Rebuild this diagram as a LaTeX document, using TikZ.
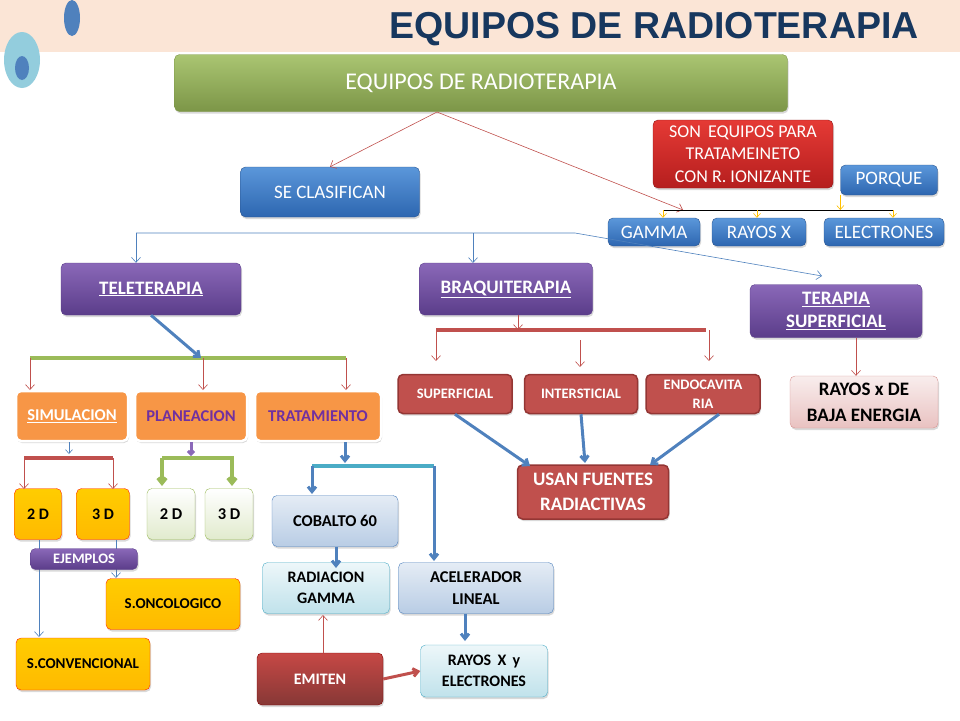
\documentclass[tikz,border=0pt]{standalone}
\usepackage{fontspec}
\setmainfont{Carlito}
\newfontfamily\titlefont{Liberation Sans}
\usetikzlibrary{arrows.meta,shadows}

\definecolor{olivegreen}{HTML}{9BBB59}
\definecolor{steelblue}{HTML}{4F81BD}
\definecolor{boxbluetop}{HTML}{5B97DA}
\definecolor{boxbluebot}{HTML}{2D66B0}
\definecolor{darksteel}{HTML}{2B5590}
\definecolor{brick}{HTML}{C0504D}
\definecolor{darkbrick}{HTML}{943634}
\definecolor{lavender}{HTML}{8A68B8}
\definecolor{darklav}{HTML}{5B3D8A}
\definecolor{tangerine}{HTML}{F79646}
\definecolor{amber}{HTML}{FFC000}
\definecolor{teal}{HTML}{4BACC6}
\definecolor{navytitle}{HTML}{17375E}
\definecolor{peach}{HTML}{FBE5D6}
\definecolor{violettext}{HTML}{7030A0}
\definecolor{signalred}{HTML}{E53A35}
\definecolor{deepred}{HTML}{B51E1E}

\newcommand{\fs}[1]{\fontsize{#1}{#1}\selectfont}

\begin{document}
\begin{tikzpicture}[x=1pt,y=-1pt,
    dim/.style 2 args={minimum width=#1pt,minimum height=#2pt},
    box/.style={rounded corners=5pt,align=center,inner sep=1pt,
        drop shadow={opacity=0.3,shadow xshift=1pt,shadow yshift=-2pt}},
    greenroot/.style={box,draw=olivegreen!80!black,top color=olivegreen!85!white,bottom color=olivegreen!80!black,text=white,font=\fs{24}},
    bluebox/.style={box,draw=darksteel,top color=boxbluetop,bottom color=boxbluebot,text=white,font=\fs{19}},
    redbox/.style={box,draw=deepred!80!black,top color=signalred,bottom color=deepred,text=white,font=\fs{18}},
    purplebox/.style={box,draw=darklav,top color=lavender,bottom color=darklav,text=white,font=\bfseries\fs{19}},
    orangebox/.style={box,draw=white,line width=2.5pt,fill=tangerine,font=\bfseries\fs{16.5}},
    goldbox/.style={box,draw=red!70!orange,top color=amber!80!yellow,bottom color=amber!90!orange,font=\bfseries\fs{16}},
    greenbox/.style={box,draw=olivegreen,top color=white,bottom color=olivegreen!30,font=\bfseries\fs{16.5}},
    skybox/.style={box,draw=steelblue,top color=steelblue!15,bottom color=steelblue!40,font=\bfseries\fs{16.5}},
    cyanbox/.style={box,draw=teal,top color=teal!10,bottom color=teal!35,font=\bfseries\fs{16}},
    brickbox/.style={box,draw=darkbrick,line width=1.5pt,fill=brick,text=white,font=\bfseries\fs{14.5}},
    pinkbox/.style={box,draw=brick!60,top color=brick!10,bottom color=brick!35,font=\bfseries\fs{19}},
    thin/.style={-{Straight Barb[length=5pt,width=9pt]},line width=0.6pt},
    fat/.style={-{Straight Barb[length=5pt,width=8pt]},line width=3pt,steelblue},
    bar/.style={line width=4pt}]

% fondo
\useasboundingbox (0,0) rectangle (960,720);
\fill[peach] (0,0) rectangle (960,52);
\fill[steelblue] (72,18) ellipse [x radius=8,y radius=18];
\fill[teal!60] (22,60) ellipse [x radius=18,y radius=28];
\fill[steelblue] (22,68) ellipse [x radius=7,y radius=12];
\node[text=navytitle,font=\titlefont\bfseries\fs{37.5}] (title) at (654,29) {EQUIPOS DE RADIOTERAPIA};

% nivel superior
\node[greenroot,dim={613}{57}] (root) at (481,83) {EQUIPOS DE RADIOTERAPIA};
\node[bluebox,dim={179}{50}] (clasif) at (330,192) {SE CLASIFICAN};
\node[redbox,dim={180}{68}] (son) at (743,154) {SON\,\ EQUIPOS PARA\\[4.5pt]TRATAMEINETO\\[4.5pt]CON R. IONIZANTE};
\node[bluebox,dim={97}{30}] (porque) at (889,180) {PORQUE};
\node[bluebox,dim={92}{28}] (gamma) at (654,232) {GAMMA};
\node[bluebox,dim={94}{28}] (rayos) at (759,232) {RAYOS X};
\node[bluebox,dim={120}{28}] (elec) at (884,232) {ELECTRONES};

\coordinate (rs) at (437,112);
\coordinate (barl) at (664,210);
\coordinate (barr) at (894,210);
\draw[thin,brick] (rs) -- (clasif.north);
\draw[thin,brick] (rs) -- (683,210);
\draw[line width=1pt] (barl) -- (barr);
\draw[thin,amber,-{Straight Barb[length=4pt,width=7pt]}] (porque.south west) -- (porque.south west |- barl);
\foreach \n/\dx in {gamma/9,rayos/-2,elec/9}
    \draw[thin,amber,-{Straight Barb[length=4pt,width=7pt]}] ([xshift=\dx pt]\n.north |- barl) -- ([xshift=\dx pt]\n.north);

% clasificacion
\node[purplebox,dim={180}{52}] (tele) at (151,289) {\underline{TELETERAPIA}};
\node[purplebox,dim={173}{52}] (braqui) at (506,289) {\underline{BRAQUITERAPIA}};
\node[purplebox,dim={172}{53}] (tsup) at (836,311) {\underline{TERAPIA}\\[4pt]\underline{SUPERFICIAL}};
\coordinate (cl) at (136,233);
\coordinate (cm) at (575,233);
\draw[thin,steelblue] (cl) -- (cm) -- (822,276);
\draw[thin,steelblue] (cl) -- (cl |- tele.north);
\draw[thin,steelblue] (473,233) -- (473,263);

% teleterapia
\node[orangebox,dim={112}{50},text=white] (simu) at (72,416) {\underline{SIMULACION}};
\node[orangebox,dim={112}{50},text=violettext] (plan) at (191,416) {PLANEACION};
\node[orangebox,dim={126}{50},text=violettext] (trat) at (318,416) {TRATAMIENTO};
\draw[bar,olivegreen] (30,358) -- (346,358);
\draw[fat] (tele.south) -- (201,358);
\foreach \x in {30,203,346}
    \draw[thin,brick] (\x,358) -- (\x,390);

% simulacion
\node[goldbox,dim={47}{51}] (sd2) at (38,514) {2 D};
\node[goldbox,dim={53}{51}] (sd3) at (103,514) {3 D};
\node[goldbox,dim={134}{51},font=\bfseries\fs{15}] (onco) at (173,604) {S.ONCOLOGICO};
\node[goldbox,dim={134}{52},font=\bfseries\fs{15}] (conv) at (83,664) {S.CONVENCIONAL};
\draw[thin,steelblue,-{Straight Barb[length=4pt,width=7pt]}] (simu.south -| 69,0) -- (69,454);
\draw[bar,brick] (24,458) -- (113,458);
\draw[thin,brick] (24,458) -- (24,489);
\draw[thin,brick] (113,458) -- (113,489);
\draw[thin,steelblue] (39,540) -- (39,637);
\draw[thin,steelblue] (116,540) -- (116,578);
\node[purplebox,dim={107}{21},font=\bfseries\fs{14.5}] (ejem) at (84,559) {EJEMPLOS};

% planeacion
\node[greenbox,dim={48}{51}] (pd2) at (171,514) {2 D};
\node[greenbox,dim={48}{51}] (pd3) at (229,514) {3 D};
\draw[-{Straight Barb[length=3pt,width=6pt]},line width=3pt,lavender] (191,442) -- (191,456);
\draw[-{Straight Barb[length=5pt,width=8pt]},line width=4pt,olivegreen] (162,458) -- (232,458) -- (232,486);
\draw[-{Straight Barb[length=5pt,width=8pt]},line width=4pt,olivegreen] (162,458) -- (162,486);

% tratamiento
\node[skybox,dim={126}{51}] (cob) at (335,521) {COBALTO 60};
\node[cyanbox,dim={127}{51}] (radg) at (326,588) {RADIACION\\[5pt]GAMMA};
\node[skybox,dim={155}{51}] (acel) at (476,588) {ACELERADOR\\[5pt]LINEAL};
\node[cyanbox,dim={127}{52}] (rxe) at (484,671) {RAYOS\,\ X\,\ y\\[5pt]ELECTRONES};
\node[box,draw=red!50!black,top color=brick!90!red,bottom color=brick!70!black,text=white,font=\bfseries\fs{16},dim={126}{52}] (emit) at (320,679) {EMITEN};
\draw[fat] (trat.south -| 345,0) -- (345,463);
\draw[line width=3.5pt,teal] (312,466) -- (434,466);
\draw[fat] (312,466) -- (312,494);
\draw[fat] (434,466) -- (434,561);
\draw[fat] (cob.south -| 336,0) -- (336,568);
\draw[fat] (acel.south -| 465,0) -- (465,641);
\draw[thin,brick] (emit.north -| 323,0) -- (323,615);
\draw[-{Straight Barb[length=5pt,width=8pt]},line width=3pt,brick] (emit.east) -- (rxe.west);

% braquiterapia
\node[brickbox,dim={114}{39}] (bsup) at (455,394) {SUPERFICIAL};
\node[brickbox,dim={113}{39}] (binter) at (581,394) {INTERSTICIAL};
\node[brickbox,dim={114}{39}] (bendo) at (703,394) {ENDOCAVITA\\[4pt]RIA};
\node[brickbox,dim={151}{54},font=\bfseries\fs{19}] (usan) at (593,492) {USAN FUENTES\\[6pt]RADIACTIVAS};
\draw[thin,brick] (braqui.south -| 518,0) -- (518,330);
\draw[bar,brick] (436,330) -- (706,330);
\draw[thin,brick] (436,330) -- (436,361);
\draw[thin,brick] (580,340) -- (580,367);
\draw[thin,brick] (709,330) -- (709,361);
\draw[fat] (bsup.south) -- (530,466);
\draw[fat] (binter.south) -- (585,463);
\draw[fat] ([xshift=16pt]bendo.south) -- (650,465);

% terapia superficial
\node[pinkbox,dim={148}{52}] (baja) at (864,402) {RAYOS x DE\\[7pt]BAJA ENERGIA};
\draw[thin,brick] (tsup.south -| 856,0) -- (baja.north -| 856,0);
\end{tikzpicture}
\end{document}
